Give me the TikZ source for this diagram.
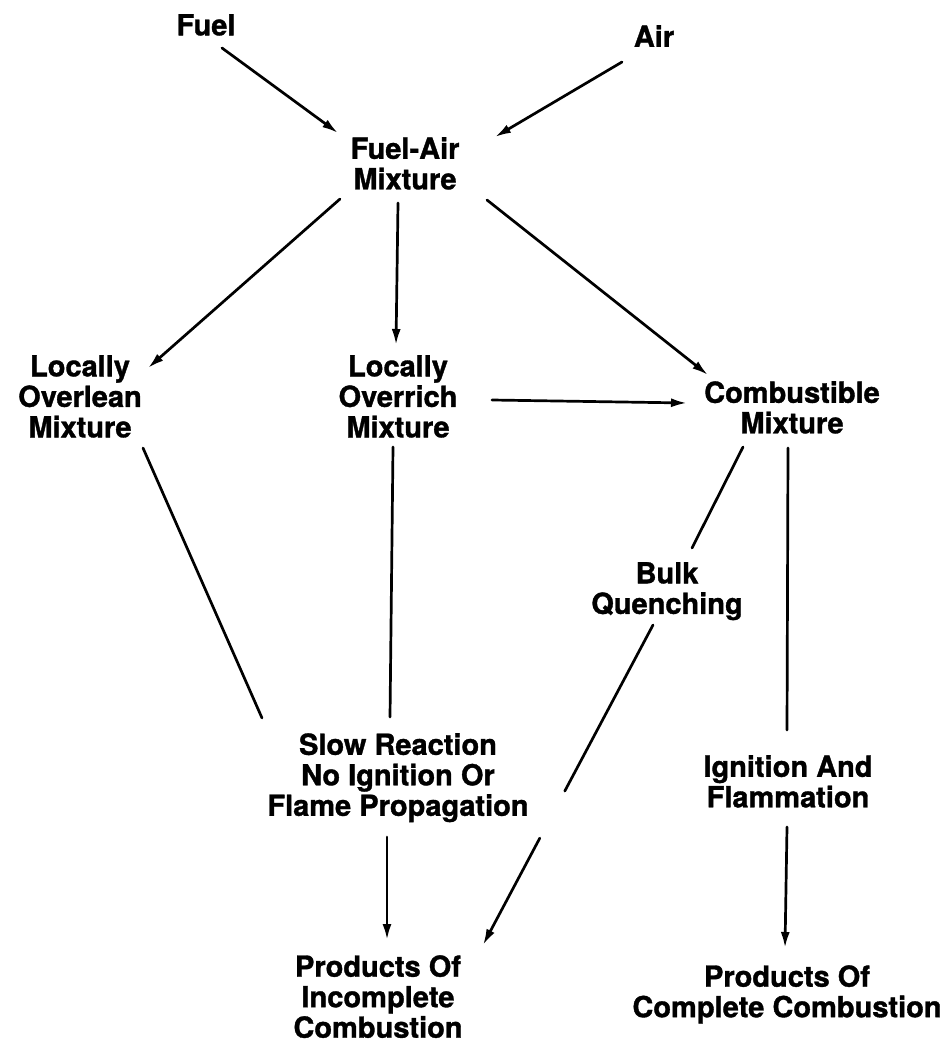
\documentclass[tikz,border=0pt]{standalone}
\usepackage{fontspec}
\setmainfont[BoldFeatures={FakeBold=1.2}]{TeX Gyre Heros}
\usetikzlibrary{arrows.meta,calc}
\begin{document}
\begin{tikzpicture}[x=1pt,y=-1pt,
  label/.style={anchor=north,inner sep=0pt,align=center,
    font=\fontsize{29}{30.5}\selectfont\bfseries},
  link/.style={line width=2.7pt,line cap=round},
  flow/.style={link,-{Latex[length=16pt,width=9pt]}}]
\useasboundingbox (0,0) rectangle (950,1043);

% stages of the combustion process
\node[label] (fuel)  at (206,14)  {Fuel};
\node[label] (air)   at (654,25)  {Air};
\node[label] (fam)   at (405,137) {Fuel-Air\\Mixture};
\node[label] (ovl)   at (80,355)  {Locally\\Overlean\\Mixture};
\node[label] (ovr)   at (398,355) {Locally\\Overrich\\Mixture};
\node[label] (comb)  at (792,381) {Combustible\\Mixture};
\node[label] (bulk)  at (667,562) {Bulk\\Quenching};
\node[label] (slow)  at (398,733) {Slow Reaction\\No Ignition Or\\Flame Propagation};
\node[label] (ign)   at (788,755) {Ignition And\\Flammation};
\node[label] (pinc)  at (378,955) {Products Of\\Incomplete\\Combustion};
\node[label] (pcomp) at (787,965) {Products Of\\Complete Combustion};

% mixing
\draw[flow] ($(fuel.north)+(16,34)$) -- ($(fam.north)+(-67,-4)$);
\draw[flow] ($(air.north)+(-32,37)$) -- ($(fam.north)+(90,0)$);

% mixture states
\draw[flow] ($(fam.north)+(-65,62)$) -- ($(ovl.north)+(68,13)$);
\draw[flow] ($(fam.north)+(-7,66)$)  -- ($(ovr.north)+(-2,-10)$);
\draw[flow] ($(fam.north)+(82,63)$)  -- ($(comb.north)+(-84,-6)$);
\draw[flow] ($(ovr.north)+(94,45)$)  -- ($(comb.north)+(-105,22)$);

% reaction paths
\draw[link] ($(ovl.north)+(63,93)$)  -- ($(slow.north)+(-136,-15)$);
\draw[link] ($(ovr.north)+(-5,92)$)  -- ($(slow.north)+(-8,-16)$);
\draw[link] ($(comb.north)+(-49,66)$) -- ($(bulk.north)+(25,-14)$);
\draw[link] ($(comb.north)+(-4,67)$)  -- ($(ign.north)+(-1,-25)$);

% quenching path, broken beside the slow-reaction text
\coordinate (qs) at ($(bulk.north)+(-14,63)$);
\coordinate (qe) at ($(pinc.north)+(105,-10)$);
\coordinate (qa) at ($(qs)!0.519!(qe)$);
\coordinate (qb) at ($(qs)!0.666!(qe)$);
\draw[link] (qs) -- (qa);
\draw[flow] (qb) -- (qe);

% products
\draw[flow] ($(slow.north)+(-11,104)$) -- ($(pinc.north)+(9,-15)$);
\draw[flow] ($(ign.north)+(-1,72)$)    -- ($(pcomp.north)+(-2,-17)$);
\end{tikzpicture}
\end{document}
